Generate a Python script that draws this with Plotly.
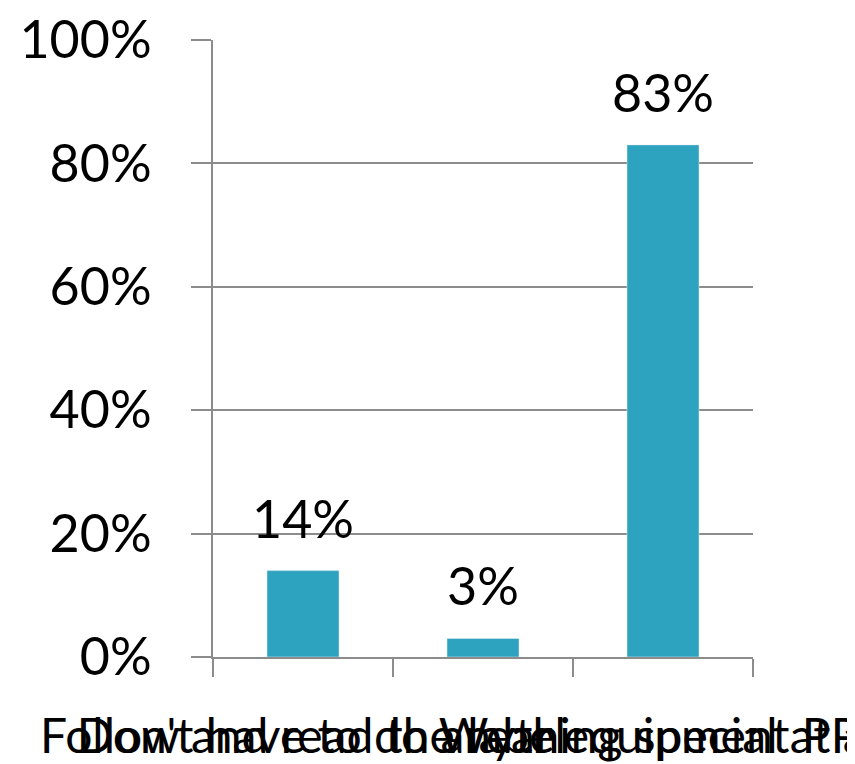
import plotly.graph_objects as go

categories = ["Follow and read the label", "Don't have to do anything special at all", "Wear equipment PPE"]
values = [0.14, 0.03, 0.83]
value_labels = ["14%", "3%", "83%"]
y_ticks = [0, 0.2, 0.4, 0.6, 0.8, 1.0]
y_tick_labels = ["0%", "20%", "40%", "60%", "80%", "100%"]

FONT = "Lato"
BAR = "#2EA3C0"
GRID = "#8C8C8C"

fig = go.Figure()
fig.add_trace(go.Bar(x=categories, y=values, marker_color=BAR, width=0.4, showlegend=False))

for c, v, t in zip(categories, values, value_labels):
    fig.add_annotation(x=c, y=v, text=t, showarrow=False, yanchor="bottom", yshift=20,
                       font=dict(family=FONT, size=52, color="black"))

fig.update_layout(
    width=847, height=756,
    margin=dict(l=205, r=102, t=32, b=107),
    paper_bgcolor="white", plot_bgcolor="white",
    bargap=0.6,
)
fig.update_xaxes(
    type="category", automargin=False, showline=True, linecolor=GRID, linewidth=2,
    ticks="outside", tickson="boundaries", ticklen=18, tickwidth=2, tickcolor=GRID,
    tickfont=dict(family=FONT, size=48, color="black"), tickangle=0,
    ticklabelstandoff=36, showgrid=False, ticklabeloverflow="allow",
)
fig.update_yaxes(
    range=[0, 1], automargin=False, tickvals=y_ticks, ticktext=y_tick_labels,
    showline=True, linecolor=GRID, linewidth=2,
    ticks="outside", ticklen=20, tickwidth=2, tickcolor=GRID,
    showgrid=True, gridcolor=GRID, gridwidth=2, zeroline=False,
    tickfont=dict(family=FONT, size=52, color="black"), ticklabelstandoff=29,
    ticklabeloverflow="allow",
)
fig.write_html("out.html")
